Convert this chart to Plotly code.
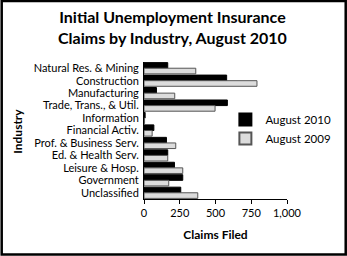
import plotly.graph_objects as go

industries = ["Natural Res. & Mining", "Construction", "Manufacturing", "Trade, Trans., & Util.",
              "Information", "Financial Activ.", "Prof. & Business Serv.", "Ed. & Health Serv.",
              "Leisure & Hosp.", "Government", "Unclassified"]
aug2010 = [166, 578, 87, 583, 8, 69, 157, 166, 213, 271, 257]
aug2009 = [362, 790, 215, 497, 4, 57, 222, 166, 271, 173, 376]
tick_vals = [0, 250, 500, 750, 1000]
tick_text = ["0", "250", "500", "750", "1,000"]

W, H = 347, 256
L, R, T, B = 143.5, 60.3, 62, 57
pw, ph = W - L - R, H - T - B

def px2paper_x(px):
    return (px - L) / pw

def py2paper_y(py):
    return 1 - (py - T) / ph

FONT = "Lato"

fig = go.Figure()
fig.add_trace(go.Bar(y=industries, x=aug2010, orientation="h", name="August 2010",
                     marker=dict(color="#000000", line=dict(color="#000000", width=1))))
fig.add_trace(go.Bar(y=industries, x=aug2009, orientation="h", name="August 2009",
                     marker=dict(color="#dcdcdc", line=dict(color="#555555", width=1))))

fig.update_layout(
    width=W, height=H,
    margin=dict(l=L, r=R, t=T, b=B, autoexpand=False),
    paper_bgcolor="white", plot_bgcolor="white",
    barmode="group", bargap=0.1, bargroupgap=0.0,
    font=dict(family=FONT, color="black", size=11),
    showlegend=True,
    legend=dict(x=px2paper_x(225), y=py2paper_y(105), xanchor="left", yanchor="top",
                font=dict(size=11.5, family=FONT), bgcolor="rgba(0,0,0,0)",
                itemsizing="constant", tracegroupgap=0),
    xaxis=dict(range=[0, 1000], tickvals=tick_vals, ticktext=tick_text, showgrid=False,
               zeroline=False, showline=True, linecolor="black", linewidth=1,
               ticks="outside", ticklen=4, tickcolor="black", tickfont=dict(size=11),
               automargin=False,
               title=dict(text="<b>Claims Filed</b>", font=dict(size=12), standoff=12)),
    yaxis=dict(autorange="reversed", showgrid=False, zeroline=False, showline=True,
               linecolor="black", linewidth=1, ticks="", ticklabelstandoff=2,
               tickmode="array", tickvals=industries, ticktext=industries,
               automargin=False, tickfont=dict(size=11)),
    annotations=[
        dict(text="<b>Initial Unemployment Insurance<br>Claims by Industry, August 2010</b>",
             xref="paper", yref="paper", x=px2paper_x(172), y=py2paper_y(27),
             xanchor="center", yanchor="middle", showarrow=False,
             font=dict(size=16, family=FONT)),
        dict(text="<b>Industry</b>", textangle=-90, xref="paper", yref="paper",
             x=px2paper_x(16), y=py2paper_y(131), xanchor="center", yanchor="middle",
             showarrow=False, font=dict(size=12, family=FONT)),
    ],
    shapes=[dict(type="rect", xref="paper", yref="paper",
                 x0=px2paper_x(1), x1=px2paper_x(345.5), y0=py2paper_y(254.5), y1=py2paper_y(1),
                 line=dict(color="black", width=2.5), fillcolor="rgba(0,0,0,0)")],
)

fig.write_html("out.html")
